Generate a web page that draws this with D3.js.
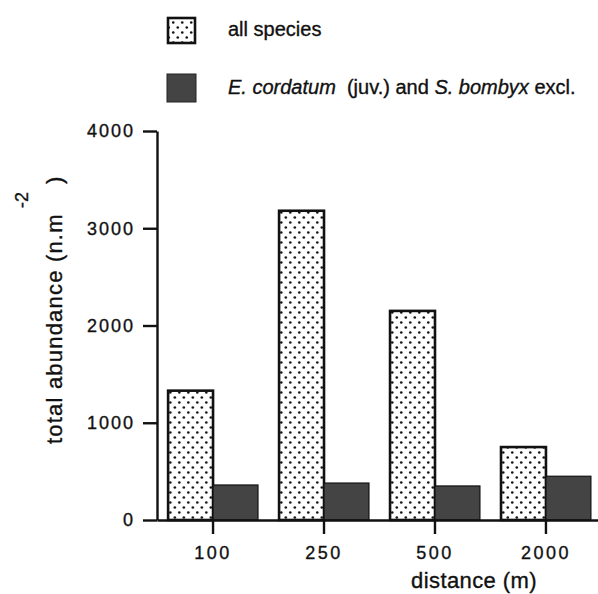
<!DOCTYPE html>
<html>
<head>
<meta charset="utf-8">
<script src="https://cdn.jsdelivr.net/npm/d3@7"></script>
<style>
  html, body { margin: 0; padding: 0; background: #fff; }
  svg { display: block; }
  text { font-family: "Liberation Sans", Arial, Helvetica, sans-serif; fill: #111; stroke: #111; stroke-width: 0.35px; }
</style>
</head>
<body>
<svg id="chart" width="598" height="594"></svg>
<script>
// Distances from the source (m)
const distances = ["100", "250", "500", "2000"];
// Total abundance (ind. per m²)
const allSpecies = [1330, 3180, 2150, 750];
const excludedSpecies = [360, 380, 350, 450];
const seriesNames = ["all species", "excl"];
const yTicks = [0, 1000, 2000, 3000, 4000];

const svg = d3.select("#chart");
const defs = svg.append("defs");

// Stippled fill used for the "all species" bars
const pat = defs.append("pattern")
  .attr("id", "stipple")
  .attr("patternUnits", "userSpaceOnUse")
  .attr("width", 9).attr("height", 10);
pat.append("rect").attr("width", 9).attr("height", 10).attr("fill", "#fff");
pat.append("circle").attr("cx", 2.25).attr("cy", 2.5).attr("r", 1.3).attr("fill", "#111");
pat.append("circle").attr("cx", 6.75).attr("cy", 7.5).attr("r", 1.3).attr("fill", "#111");

const fills = { "all species": "url(#stipple)", "excl": "#444" };
const strokes = { "all species": 2.6, "excl": 1.2 };

const y = d3.scaleLinear().domain([0, 4000]).range([520, 131]);
const x = d3.scaleBand().domain(distances).range([157, 602])
  .paddingInner(0.19).paddingOuter(0.1);
const xs = d3.scaleBand().domain(seriesNames).range([0, x.bandwidth()]);

const rows = distances.map((d, i) => ({
  distance: d,
  values: [
    { key: "all species", value: allSpecies[i] },
    { key: "excl", value: excludedSpecies[i] }
  ]
}));

// Bars
const groups = svg.append("g").selectAll("g")
  .data(rows).join("g")
  .attr("transform", d => `translate(${x(d.distance)},0)`);

groups.selectAll("rect")
  .data(d => d.values).join("rect")
  .attr("x", d => xs(d.key))
  .attr("y", d => y(d.value))
  .attr("width", xs.bandwidth())
  .attr("height", d => y(0) - y(d.value))
  .attr("fill", d => fills[d.key])
  .attr("stroke", "#111")
  .attr("stroke-width", d => strokes[d.key]);

// X axis
const xAxis = svg.append("g")
  .attr("transform", `translate(0,${y(0)})`)
  .call(d3.axisBottom(x).tickSizeInner(14).tickSizeOuter(0).tickPadding(12));
xAxis.select(".domain").attr("stroke", "#111").attr("stroke-width", 2.4);
xAxis.selectAll(".tick line").attr("stroke", "#111").attr("stroke-width", 2.4);
xAxis.selectAll(".tick text")
  .style("font-family", "'Liberation Sans', Arial, sans-serif")
  .style("font-size", "18px").style("letter-spacing", "2.5px")
  .attr("fill", "#111").attr("stroke", "#111").attr("stroke-width", 0.4);

// Y axis
const yAxis = svg.append("g")
  .attr("transform", `translate(157,0)`)
  .call(d3.axisLeft(y).tickValues(yTicks).tickFormat(d3.format("d"))
    .tickSizeInner(14).tickSizeOuter(0).tickPadding(8));
yAxis.select(".domain").attr("stroke", "#111").attr("stroke-width", 2.4);
yAxis.selectAll(".tick line").attr("stroke", "#111").attr("stroke-width", 2.4);
yAxis.selectAll(".tick text")
  .style("font-family", "'Liberation Sans', Arial, sans-serif")
  .style("font-size", "18px").style("letter-spacing", "2px")
  .attr("fill", "#111").attr("stroke", "#111").attr("stroke-width", 0.4);

// Axis titles
svg.append("text")
  .attr("x", 474).attr("y", 588)
  .attr("text-anchor", "middle")
  .style("font-size", "22px").style("letter-spacing", "0.4px")
  .text("distance (m)");

svg.append("text")
  .attr("transform", "translate(62,444) rotate(-90)")
  .style("font-size", "22px").style("letter-spacing", "1.2px")
  .text("total abundance (n.m");
svg.append("text")
  .attr("transform", "translate(62,184) rotate(-90)")
  .style("font-size", "22px")
  .text(")");
svg.append("text")
  .attr("transform", "translate(28,208) rotate(-90)")
  .style("font-size", "18px")
  .text("-2");

// Legend
const legend = svg.append("g");
legend.append("rect")
  .attr("x", 168).attr("y", 18).attr("width", 27).attr("height", 25)
  .attr("fill", fills["all species"]).attr("stroke", "#111").attr("stroke-width", 2.6);
legend.append("rect")
  .attr("x", 167).attr("y", 74).attr("width", 29).attr("height", 28)
  .attr("fill", fills["excl"]).attr("stroke", "#222").attr("stroke-width", 1);

legend.append("text")
  .attr("x", 228).attr("y", 36)
  .style("font-size", "20px")
  .text("all species");

const l2 = legend.append("text")
  .attr("x", 228).attr("y", 94)
  .style("font-size", "20px");
l2.append("tspan").style("font-style", "italic").text("E. cordatum");
l2.append("tspan").text("\u00a0 (juv.) and ");
l2.append("tspan").style("font-style", "italic").text("S. bombyx");
l2.append("tspan").text(" excl.");
</script>
</body>
</html>
